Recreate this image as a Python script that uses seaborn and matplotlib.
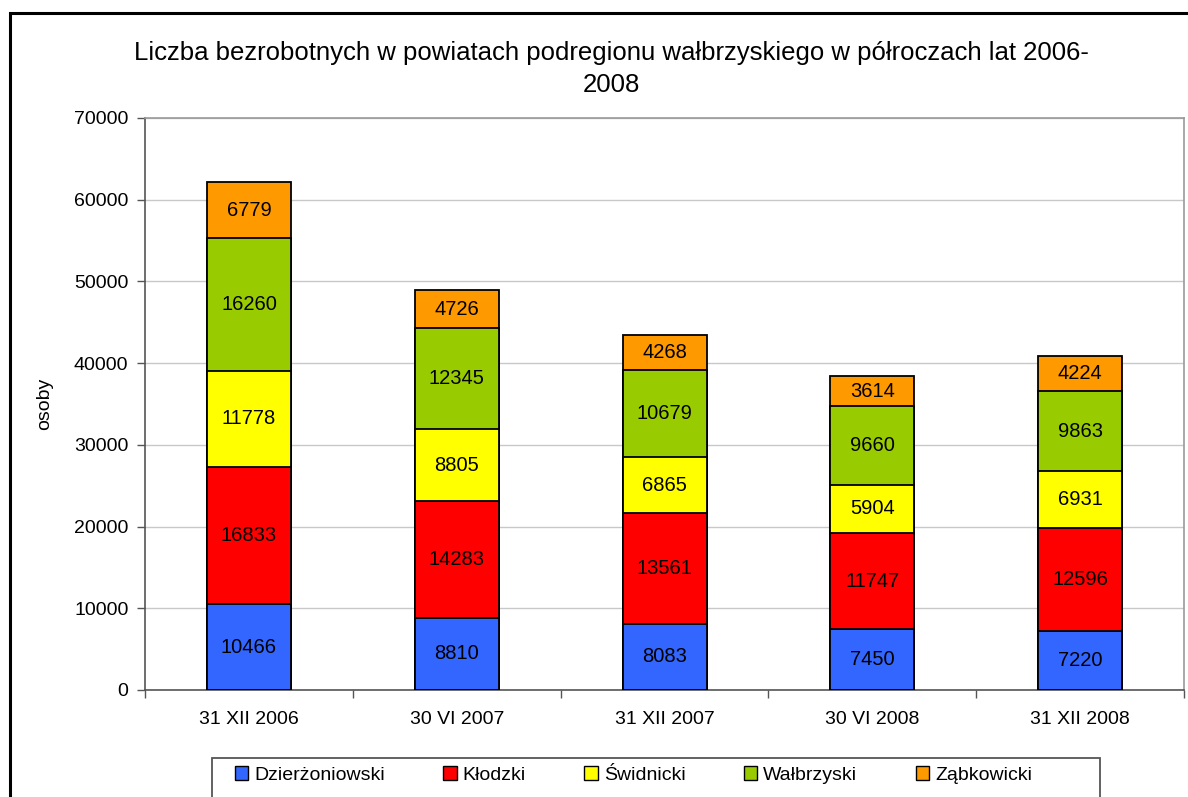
import seaborn as sns
import pandas as pd
import matplotlib.pyplot as plt
from matplotlib.patches import Patch, Rectangle

dates = ["31 XII 2006", "30 VI 2007", "31 XII 2007", "30 VI 2008", "31 XII 2008"]
dzierzoniowski = [10466, 8810, 8083, 7450, 7220]
klodzki = [16833, 14283, 13561, 11747, 12596]
swidnicki = [11778, 8805, 6865, 5904, 6931]
walbrzyski = [16260, 12345, 10679, 9660, 9863]
zabkowicki = [6779, 4726, 4268, 3614, 4224]

names = ["Dzierżoniowski", "Kłodzki", "Świdnicki", "Wałbrzyski", "Ząbkowicki"]
colors = ["#3366FF", "#FF0000", "#FFFF00", "#99CC00", "#FF9900"]

df = pd.DataFrame({"data": dates, names[0]: dzierzoniowski, names[1]: klodzki,
                   names[2]: swidnicki, names[3]: walbrzyski, names[4]: zabkowicki})
cum = df[names].cumsum(axis=1)

sns.set_style("white")
plt.rcParams['font.family'] = ['Liberation Sans', 'DejaVu Sans']
plt.rcParams['text.color'] = 'black'
plt.rcParams['xtick.color'] = 'black'
plt.rcParams['ytick.color'] = 'black'

fig = plt.figure(figsize=(11.88, 7.97), dpi=100)
ax = fig.add_axes([0.1221, 0.1343, 0.8746, 0.7177])

# stacked bars: draw tallest cumulative first, shorter ones on top
for name, col in reversed(list(zip(names, colors))):
    sns.barplot(x=df["data"], y=cum[name], color=col, width=0.404,
                edgecolor="black", linewidth=1.3, saturation=1, ax=ax, zorder=3)

# value labels in the middle of each segment
for name in names:
    bottoms = cum[name] - df[name]
    for i, (v, b) in enumerate(zip(df[name], bottoms)):
        ax.text(i, b + v / 2, str(v), ha="center", va="center", fontsize=14.5, zorder=4)

ax.set_xlim(-0.5, 4.5)
ax.set_ylim(0, 70000)
ax.set_yticks(range(0, 70001, 10000))
ax.set_xlabel("")
ax.set_ylabel("")
ax.yaxis.grid(True, color="#C8C8C8", linewidth=1)
ax.set_axisbelow(True)

ax.tick_params(axis="y", left=True, length=6, width=1, color="#555555", labelcolor="black",
               pad=6, labelsize=14)
ax.tick_params(axis="x", which="major", length=0, pad=15, labelsize=14, labelcolor="black")
ax.set_xticks([-0.5, 0.5, 1.5, 2.5, 3.5, 4.5], minor=True)
ax.tick_params(axis="x", which="minor", bottom=True, length=6, width=1, color="#555555")

for s in ["left", "bottom"]:
    ax.spines[s].set_color("#555555")
    ax.spines[s].set_linewidth(1.2)
for s in ["top", "right"]:
    ax.spines[s].set_color("#999999")
    ax.spines[s].set_linewidth(1.2)

fig.text(611 / 1188, 1 - 69 / 797,
         "Liczba bezrobotnych w powiatach podregionu wałbrzyskiego w półroczach lat 2006-\n2008",
         ha="center", va="center", fontsize=18.5, multialignment="center", linespacing=1.38)
fig.text(45 / 1188, 1 - 404 / 797, "osoby", rotation=90, ha="center", va="center", fontsize=14)

# outer chart frame (cut off on right and bottom)
fig.patches.append(Rectangle((10 / 1188, -0.2), 1.5, 1.2 - 13 / 797, transform=fig.transFigure,
                             fill=False, edgecolor="black", linewidth=2.2))

# legend frame (cut off at bottom)
fig.patches.append(Rectangle((212 / 1188, -0.2), (1100 - 212) / 1188, 0.2 + 1 - 758 / 797,
                             transform=fig.transFigure, fill=False, edgecolor="#555555", linewidth=1.3))
handles = [Patch(facecolor=c, edgecolor="black", linewidth=1, label=n) for n, c in zip(names, colors)]
fig.legend(handles=handles, loc="center left", bbox_to_anchor=(225 / 1188, 1 - 775 / 797),
           ncol=5, frameon=False, fontsize=14, handlelength=0.7, handleheight=0.7,
           handletextpad=0.3, columnspacing=3.0, borderpad=0)

fig.savefig("out.png", dpi=100)
